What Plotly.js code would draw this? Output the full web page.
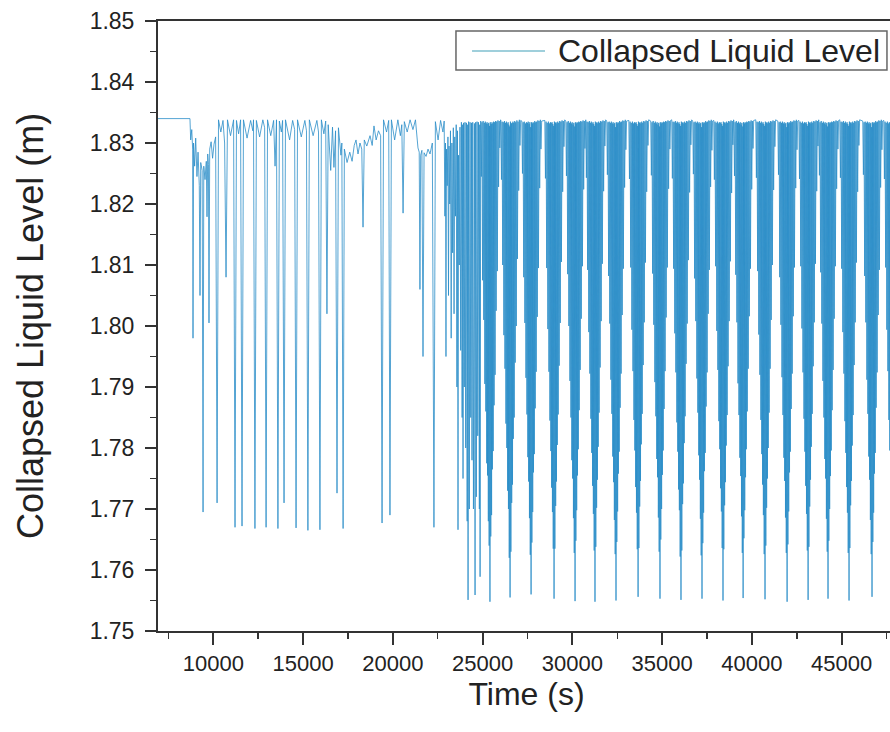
<!DOCTYPE html>
<html>
<head>
<meta charset="utf-8">
<script src="https://cdn.plot.ly/plotly-3.0.1.min.js"></script>
<style>
html,body{margin:0;padding:0;overflow:hidden;background:#fff;}
#chart{width:895px;height:732px;}
</style>
</head>
<body>
<div id="chart"></div>
<script>
// ---- Data (time in s, collapsed liquid level in m) ----
var seriesName = "Collapsed Liquid Level";
var xTitle = "Time (s)";
var yTitle = "Collapsed Liquid Level (m)";

// initial steady level and first irregular oscillations (≈6900–24900 s)
var tEarly = [6900,8700,8740,8800,8850,8870,8900,8960,9020,9090,9150,9220,9260,9300,9380,9430,9470,9540,9610,9650,9690,9730,9760,9800,9880,9960,10040,10130,10210,10290,10420,10540,10630,10710,10790,10960,11130,11210,11290,11410,11520,11600,11680,11880,12080,12200,12240,12320,12400,12580,12760,12860,12940,13020,13200,13360,13440,13520,13600,13680,13790,13860,13940,14020,14250,14420,14530,14610,14690,14900,15100,15190,15270,15350,15560,15770,15860,15940,16020,16160,16260,16330,16400,16540,16640,16720,16810,16890,16970,17110,17160,17230,17300,17450,17600,17730,17850,17950,18060,18170,18270,18340,18410,18550,18730,18850,18950,19070,19200,19320,19400,19480,19650,19770,19840,19920,20100,20280,20420,20500,20570,20640,20800,20960,21120,21260,21400,21470,21510,21550,21620,21680,21740,21850,21960,22070,22200,22290,22370,22520,22660,22790,
22860,22900,22930,22960,22990,23030,23070,23100,23130,23170,23210,23250,23290,23330,23370,23410,23450,23490,23530,23570,23600,23630,23660,23700,23740,23780,23820,23860,23890,23910,23940,23980,24020,24060,24100,24140,24170,24190,24220,24260,24300,24340,24380,24410,24450,24490,24545,24580,24610,24650,24690,24730,24770,24820,24840,24860];
var yEarly = [1.8340,1.8340,1.8305,1.8322,1.8290,1.7980,1.8300,1.8262,1.8308,1.8245,1.8285,1.8230,1.8050,1.8268,1.8255,1.7695,1.8262,1.8240,1.8270,1.8179,1.8282,1.8265,1.8005,1.8290,1.8302,1.8275,1.8298,1.8310,1.7710,1.8338,1.8318,1.8337,1.8300,1.8080,1.8338,1.8312,1.8338,1.7670,1.8337,1.8315,1.8338,1.7672,1.8338,1.8308,1.8337,1.8320,1.8338,1.7668,1.8337,1.8310,1.8338,1.8325,1.7670,1.8338,1.8312,1.8337,1.8262,1.8338,1.7668,1.8336,1.8318,1.8337,1.7710,1.8338,1.8305,1.8337,1.8322,1.7669,1.8338,1.8310,1.8337,1.8320,1.7665,1.8338,1.8312,1.8337,1.8318,1.7666,1.8338,1.8315,1.8336,1.8020,1.8330,1.8255,1.8326,1.8260,1.8320,1.7726,1.8325,1.8280,1.8300,1.7668,1.8290,1.8268,1.8285,1.8270,1.8296,1.8305,1.8282,1.8300,1.8290,1.8162,1.8305,1.8295,1.8312,1.8296,1.8328,1.8305,1.8320,1.8312,1.7677,1.8338,1.8318,1.8337,1.7690,1.8338,1.8305,1.8338,1.8312,1.8330,1.8185,1.8335,1.8318,1.8338,1.8322,1.8338,1.8292,1.8285,1.8060,1.8280,1.8288,1.7950,1.8284,1.8278,1.8290,1.8282,1.8300,1.7670,1.8335,1.8305,1.8337,1.8318,
1.8336,1.8180,1.8300,1.7950,1.8290,1.8230,1.8310,1.8050,1.8295,1.8200,1.8320,1.7980,1.8300,1.8120,1.8325,1.8020,1.8310,1.8180,1.8330,1.7900,1.8320,1.7666,1.8280,1.8100,1.8326,1.7960,1.8334,1.7850,1.8330,1.7750,1.8333,1.7900,1.8334,1.7800,1.8333,1.7680,1.8330,1.7551,1.8335,1.7700,1.8334,1.7850,1.8333,1.7780,1.8334,1.7700,1.8332,1.7559,1.8334,1.7720,1.8335,1.7820,1.8334,1.7700,1.8330,1.7589];

// regular drain cycles (≈24900–48000 s), one line per cycle
var tCycles = [
24895,24930,24965,25000,25030,25065,25095,25125,25150,25180,25205,25230,25250,25275,25300,25320,25340,25365,25390,25410,25430,25455,25480,25500,25520,25545,25570,25590,25615,25640,25670,25695,25725,25755,25790,25820,25855,25890,25925,25960,26000,
26015,26050,26085,26120,26150,26185,26215,26245,26270,26300,26325,26350,26370,26395,26420,26440,26460,26485,26510,26530,26550,26575,26600,26620,26640,26665,26690,26710,26735,26760,26790,26815,26845,26875,26910,26940,26975,27010,27045,27080,27120,
27185,27220,27255,27290,27320,27355,27385,27415,27440,27470,27495,27520,27540,27565,27590,27610,27630,27655,27680,27700,27720,27745,27770,27790,27810,27835,27860,27880,27905,27930,27960,27985,28015,28045,28080,28110,28145,28180,28215,28250,28290,
28465,28500,28535,28570,28600,28635,28665,28695,28720,28750,28775,28800,28820,28845,28870,28890,28910,28935,28960,28980,29000,29025,29050,29070,29090,29115,29140,29160,29185,29210,29240,29265,29295,29325,29360,29390,29425,29460,29495,29530,29570,
29635,29670,29705,29740,29770,29805,29835,29865,29890,29920,29945,29970,29990,30015,30040,30060,30080,30105,30130,30150,30170,30195,30220,30240,30260,30285,30310,30330,30355,30380,30410,30435,30465,30495,30530,30560,30595,30630,30665,30700,30740,
30745,30780,30815,30850,30880,30915,30945,30975,31000,31030,31055,31080,31100,31125,31150,31170,31190,31215,31240,31260,31280,31305,31330,31350,31370,31395,31420,31440,31465,31490,31520,31545,31575,31605,31640,31670,31705,31740,31775,31810,31850,
31915,31950,31985,32020,32050,32085,32115,32145,32170,32200,32225,32250,32270,32295,32320,32340,32360,32385,32410,32430,32450,32475,32500,32520,32540,32565,32590,32610,32635,32660,32690,32715,32745,32775,32810,32840,32875,32910,32945,32980,33020,
33145,33180,33215,33250,33280,33315,33345,33375,33400,33430,33455,33480,33500,33525,33550,33570,33590,33615,33640,33660,33680,33705,33730,33750,33770,33795,33820,33840,33865,33890,33920,33945,33975,34005,34040,34070,34105,34140,34175,34210,34250,
34365,34400,34435,34470,34500,34535,34565,34595,34620,34650,34675,34700,34720,34745,34770,34790,34810,34835,34860,34880,34900,34925,34950,34970,34990,35015,35040,35060,35085,35110,35140,35165,35195,35225,35260,35290,35325,35360,35395,35430,35470,
35535,35570,35605,35640,35670,35705,35735,35765,35790,35820,35845,35870,35890,35915,35940,35960,35980,36005,36030,36050,36070,36095,36120,36140,36160,36185,36210,36230,36255,36280,36310,36335,36365,36395,36430,36460,36495,36530,36565,36600,36640,
36705,36740,36775,36810,36840,36875,36905,36935,36960,36990,37015,37040,37060,37085,37110,37130,37150,37175,37200,37220,37240,37265,37290,37310,37330,37355,37380,37400,37425,37450,37480,37505,37535,37565,37600,37630,37665,37700,37735,37770,37810,
37875,37910,37945,37980,38010,38045,38075,38105,38130,38160,38185,38210,38230,38255,38280,38300,38320,38345,38370,38390,38410,38435,38460,38480,38500,38525,38550,38570,38595,38620,38650,38675,38705,38735,38770,38800,38835,38870,38905,38940,38980,
38995,39030,39065,39100,39130,39165,39195,39225,39250,39280,39305,39330,39350,39375,39400,39420,39440,39465,39490,39510,39530,39555,39580,39600,39620,39645,39670,39690,39715,39740,39770,39795,39825,39855,39890,39920,39955,39990,40025,40060,40100,
40215,40250,40285,40320,40350,40385,40415,40445,40470,40500,40525,40550,40570,40595,40620,40640,40660,40685,40710,40730,40750,40775,40800,40820,40840,40865,40890,40910,40935,40960,40990,41015,41045,41075,41110,41140,41175,41210,41245,41280,41320,
41445,41480,41515,41550,41580,41615,41645,41675,41700,41730,41755,41780,41800,41825,41850,41870,41890,41915,41940,41960,41980,42005,42030,42050,42070,42095,42120,42140,42165,42190,42220,42245,42275,42305,42340,42370,42405,42440,42475,42510,42550,
42615,42650,42685,42720,42750,42785,42815,42845,42870,42900,42925,42950,42970,42995,43020,43040,43060,43085,43110,43130,43150,43175,43200,43220,43240,43265,43290,43310,43335,43360,43390,43415,43445,43475,43510,43540,43575,43610,43645,43680,43720,
43725,43760,43795,43830,43860,43895,43925,43955,43980,44010,44035,44060,44080,44105,44130,44150,44170,44195,44220,44240,44260,44285,44310,44330,44350,44375,44400,44420,44445,44470,44500,44525,44555,44585,44620,44650,44685,44720,44755,44790,44830,
44895,44930,44965,45000,45030,45065,45095,45125,45150,45180,45205,45230,45250,45275,45300,45320,45340,45365,45390,45410,45430,45455,45480,45500,45520,45545,45570,45590,45615,45640,45670,45695,45725,45755,45790,45820,45855,45890,45925,45960,46000,
46175,46210,46245,46280,46310,46345,46375,46405,46430,46460,46485,46510,46530,46555,46580,46600,46620,46645,46670,46690,46710,46735,46760,46780,46800,46825,46850,46870,46895,46920,46950,46975,47005,47035,47070,47100,47135,47170,47205,47240,47280,
47345,47380,47415,47450,47480,47515,47545,47575,47600,47630,47655,47680,47700,47725,47750,47770,47790,47815,47840,47860,47880,47905,47930,47950,47970,47995,48020,48040,48065,48090,48120,48145,48175,48205,48240,48270,48305,48340,48375,48410,48450];
var yCycles = [
1.8336,1.8245,1.8334,1.8075,1.8336,1.8010,1.8333,1.7905,1.8335,1.7860,1.8332,1.7775,1.8334,1.7755,1.8331,1.7680,1.8333,1.7640,1.8328,1.7548,1.8334,1.7655,1.8331,1.7690,1.8334,1.7765,1.8332,1.7795,1.8335,1.7870,1.8334,1.7920,1.8336,1.8025,1.8335,1.8090,1.8337,1.8228,1.8336,1.8292,1.8338,
1.8337,1.8240,1.8335,1.8100,1.8334,1.7985,1.8336,1.7930,1.8333,1.7840,1.8335,1.7800,1.8332,1.7730,1.8334,1.7700,1.8330,1.7620,1.8327,1.7555,1.8335,1.7630,1.8332,1.7710,1.8333,1.7740,1.8335,1.7815,1.8333,1.7850,1.8336,1.7940,1.8334,1.8000,1.8337,1.8110,1.8335,1.8222,1.8338,1.8296,1.8337,
1.8336,1.8250,1.8334,1.8080,1.8335,1.8005,1.8332,1.7915,1.8334,1.7855,1.8333,1.7785,1.8335,1.7745,1.8331,1.7685,1.8334,1.7625,1.8326,1.7560,1.8334,1.7645,1.8332,1.7695,1.8334,1.7760,1.8333,1.7790,1.8336,1.7865,1.8334,1.7925,1.8335,1.8015,1.8337,1.8095,1.8336,1.8226,1.8338,1.8290,1.8336,
1.8337,1.8242,1.8335,1.8095,1.8333,1.7995,1.8335,1.7925,1.8332,1.7845,1.8334,1.7795,1.8333,1.7735,1.8334,1.7695,1.8331,1.7635,1.8328,1.7553,1.8335,1.7635,1.8333,1.7705,1.8334,1.7745,1.8332,1.7805,1.8335,1.7855,1.8333,1.7935,1.8336,1.8005,1.8335,1.8105,1.8337,1.8220,1.8336,1.8294,1.8338,
1.8336,1.8246,1.8334,1.8085,1.8336,1.8000,1.8333,1.7910,1.8335,1.7850,1.8332,1.7780,1.8334,1.7750,1.8330,1.7685,1.8333,1.7628,1.8327,1.7549,1.8334,1.7648,1.8332,1.7698,1.8334,1.7755,1.8333,1.7798,1.8335,1.7862,1.8334,1.7928,1.8336,1.8012,1.8335,1.8098,1.8337,1.8224,1.8336,1.8291,1.8337,
1.8338,1.8243,1.8335,1.8092,1.8334,1.7990,1.8336,1.7922,1.8333,1.7848,1.8335,1.7792,1.8332,1.7738,1.8334,1.7692,1.8331,1.7632,1.8328,1.7548,1.8335,1.7638,1.8333,1.7702,1.8334,1.7748,1.8332,1.7802,1.8335,1.7858,1.8333,1.7932,1.8336,1.8008,1.8335,1.8102,1.8337,1.8221,1.8336,1.8295,1.8338,
1.8336,1.8248,1.8334,1.8082,1.8335,1.8004,1.8333,1.7912,1.8335,1.7856,1.8332,1.7786,1.8334,1.7744,1.8331,1.7682,1.8333,1.7626,1.8326,1.7550,1.8334,1.7646,1.8332,1.7696,1.8334,1.7758,1.8333,1.7794,1.8336,1.7866,1.8334,1.7922,1.8335,1.8018,1.8337,1.8094,1.8336,1.8227,1.8338,1.8289,1.8336,
1.8337,1.8241,1.8335,1.8096,1.8333,1.7994,1.8335,1.7926,1.8332,1.7846,1.8334,1.7796,1.8333,1.7736,1.8334,1.7694,1.8331,1.7634,1.8328,1.7556,1.8335,1.7636,1.8333,1.7704,1.8334,1.7746,1.8332,1.7806,1.8335,1.7856,1.8333,1.7936,1.8336,1.8006,1.8335,1.8104,1.8337,1.8220,1.8336,1.8296,1.8338,
1.8336,1.8247,1.8334,1.8086,1.8336,1.8002,1.8333,1.7908,1.8335,1.7852,1.8332,1.7782,1.8334,1.7752,1.8330,1.7686,1.8333,1.7630,1.8327,1.7553,1.8334,1.7650,1.8332,1.7700,1.8334,1.7756,1.8333,1.7796,1.8335,1.7864,1.8334,1.7926,1.8336,1.8014,1.8335,1.8096,1.8337,1.8225,1.8336,1.8290,1.8337,
1.8338,1.8242,1.8335,1.8094,1.8334,1.7988,1.8336,1.7924,1.8333,1.7842,1.8335,1.7794,1.8332,1.7732,1.8334,1.7698,1.8331,1.7622,1.8328,1.7551,1.8335,1.7632,1.8333,1.7708,1.8334,1.7742,1.8332,1.7808,1.8335,1.7852,1.8333,1.7938,1.8336,1.8004,1.8335,1.8108,1.8337,1.8219,1.8336,1.8297,1.8338,
1.8336,1.8249,1.8334,1.8078,1.8335,1.8008,1.8333,1.7914,1.8335,1.7858,1.8332,1.7788,1.8334,1.7748,1.8331,1.7684,1.8333,1.7624,1.8326,1.7553,1.8334,1.7644,1.8332,1.7694,1.8334,1.7762,1.8333,1.7792,1.8336,1.7868,1.8334,1.7924,1.8335,1.8020,1.8337,1.8092,1.8336,1.8228,1.8338,1.8288,1.8336,
1.8337,1.8240,1.8335,1.8098,1.8333,1.7992,1.8335,1.7928,1.8332,1.7844,1.8334,1.7798,1.8333,1.7734,1.8334,1.7696,1.8331,1.7636,1.8328,1.7550,1.8335,1.7634,1.8333,1.7706,1.8334,1.7744,1.8332,1.7804,1.8335,1.7854,1.8333,1.7934,1.8336,1.8008,1.8335,1.8106,1.8337,1.8218,1.8336,1.8297,1.8338,
1.8336,1.8246,1.8334,1.8084,1.8336,1.8006,1.8333,1.7906,1.8335,1.7854,1.8332,1.7784,1.8334,1.7754,1.8330,1.7688,1.8333,1.7628,1.8327,1.7554,1.8334,1.7652,1.8332,1.7698,1.8334,1.7752,1.8333,1.7798,1.8335,1.7860,1.8334,1.7930,1.8336,1.8016,1.8335,1.8094,1.8337,1.8224,1.8336,1.8291,1.8337,
1.8338,1.8243,1.8335,1.8090,1.8334,1.7986,1.8336,1.7920,1.8333,1.7846,1.8335,1.7790,1.8332,1.7740,1.8334,1.7690,1.8331,1.7626,1.8328,1.7552,1.8335,1.7640,1.8333,1.7702,1.8334,1.7750,1.8332,1.7800,1.8335,1.7858,1.8333,1.7930,1.8336,1.8010,1.8335,1.8100,1.8337,1.8223,1.8336,1.8294,1.8338,
1.8336,1.8248,1.8334,1.8080,1.8335,1.8002,1.8333,1.7916,1.8335,1.7854,1.8332,1.7784,1.8334,1.7746,1.8331,1.7686,1.8333,1.7628,1.8326,1.7548,1.8334,1.7642,1.8332,1.7696,1.8334,1.7760,1.8333,1.7794,1.8336,1.7864,1.8334,1.7922,1.8335,1.8016,1.8337,1.8096,1.8336,1.8226,1.8338,1.8289,1.8336,
1.8337,1.8241,1.8335,1.8098,1.8333,1.7996,1.8335,1.7924,1.8332,1.7848,1.8334,1.7794,1.8333,1.7738,1.8334,1.7692,1.8331,1.7632,1.8328,1.7551,1.8335,1.7638,1.8333,1.7704,1.8334,1.7748,1.8332,1.7802,1.8335,1.7856,1.8333,1.7934,1.8336,1.8006,1.8335,1.8102,1.8337,1.8221,1.8336,1.8295,1.8338,
1.8336,1.8247,1.8334,1.8088,1.8336,1.8004,1.8333,1.7910,1.8335,1.7850,1.8332,1.7782,1.8334,1.7750,1.8330,1.7684,1.8333,1.7630,1.8327,1.7553,1.8334,1.7648,1.8332,1.7700,1.8334,1.7754,1.8333,1.7796,1.8335,1.7862,1.8334,1.7928,1.8336,1.8012,1.8335,1.8098,1.8337,1.8225,1.8336,1.8290,1.8337,
1.8338,1.8243,1.8335,1.8094,1.8334,1.7990,1.8336,1.7922,1.8333,1.7844,1.8335,1.7792,1.8332,1.7736,1.8334,1.7694,1.8331,1.7628,1.8328,1.7550,1.8335,1.7636,1.8333,1.7706,1.8334,1.7746,1.8332,1.7804,1.8335,1.7854,1.8333,1.7936,1.8336,1.8006,1.8335,1.8104,1.8337,1.8220,1.8336,1.8296,1.8338,
1.8336,1.8248,1.8334,1.8082,1.8335,1.8006,1.8333,1.7912,1.8335,1.7856,1.8332,1.7786,1.8334,1.7748,1.8331,1.7682,1.8333,1.7626,1.8326,1.7556,1.8334,1.7646,1.8332,1.7694,1.8334,1.7758,1.8333,1.7792,1.8336,1.7866,1.8334,1.7924,1.8335,1.8018,1.8337,1.8092,1.8336,1.8227,1.8338,1.8289,1.8336,
1.8337,1.8241,1.8335,1.8096,1.8333,1.7994,1.8335,1.7926,1.8332,1.7846,1.8334,1.7796,1.8333,1.7736,1.8334,1.7694,1.8331,1.7634,1.8328,1.7560,1.8335,1.7636,1.8333,1.7704,1.8334,1.7746,1.8332,1.7806,1.8335,1.7856,1.8333,1.7936,1.8336,1.8006,1.8335,1.8104,1.8337,1.8220,1.8336,1.8296,1.8338];

// axis ticks
var xTickVals = [10000,15000,20000,25000,30000,35000,40000,45000];
var xTickText = ["10000","15000","20000","25000","30000","35000","40000","45000"];
var yTickVals = [1.75,1.76,1.77,1.78,1.79,1.80,1.81,1.82,1.83,1.84,1.85];
var yTickText = ["1.75","1.76","1.77","1.78","1.79","1.80","1.81","1.82","1.83","1.84","1.85"];

var timeAll = tEarly.concat(tCycles);
var levelAll = yEarly.concat(yCycles);

var FONT = "Arial, 'Liberation Sans', sans-serif";
var LINE_COLOR = "#2a8dc8";
var trace = {
  x: timeAll, y: levelAll, type: "scatter", mode: "lines",
  name: seriesName, showlegend: false,
  line: {color: LINE_COLOR, width: 0.8}
};

var layout = {
  width: 895, height: 732,
  margin: {l: 158, r: 0, t: 21, b: 101},
  paper_bgcolor: "#fff", plot_bgcolor: "#fff",
  font: {family: FONT, color: "#222"},
  showlegend: false,
  xaxis: {
    range: [6920, 47970],
    tickmode: "array", tickvals: xTickVals, ticktext: xTickText,
    ticks: "outside", ticklen: 12, tickwidth: 2, tickcolor: "#333",
    minor: {dtick: 2500, tick0: 0, ticks: "outside", ticklen: 6, tickwidth: 1.5, tickcolor: "#333"},
    showline: true, linecolor: "#333", linewidth: 2, mirror: true,
    showgrid: false, zeroline: false,
    tickfont: {family: FONT, size: 22, color: "#222"},
    ticklabelstandoff: 0,
    title: {text: xTitle, font: {family: FONT, size: 32, color: "#222"}, standoff: 0},
    automargin: false
  },
  yaxis: {
    range: [1.75, 1.85],
    tickmode: "array", tickvals: yTickVals, ticktext: yTickText,
    ticks: "outside", ticklen: 11, tickwidth: 2, tickcolor: "#333",
    minor: {dtick: 0.005, tick0: 1.75, ticks: "outside", ticklen: 6, tickwidth: 1.5, tickcolor: "#333"},
    showline: true, linecolor: "#333", linewidth: 2, mirror: true,
    showgrid: false, zeroline: false,
    tickfont: {family: FONT, size: 23, color: "#222"},
    ticklabelstandoff: 6,
    title: {text: yTitle, font: {family: FONT, size: 36, color: "#222"}, standoff: 35},
    automargin: false
  },
  // legend box drawn in plot-paper coordinates
  shapes: [
    {type: "rect", xref: "paper", yref: "paper", x0: 0.4043, x1: 0.9891, y0: 0.9197, y1: 0.9836,
     line: {color: "#666", width: 1.5}, fillcolor: "#fff", layer: "above"},
    {type: "line", xref: "paper", yref: "paper", x0: 0.4261, x1: 0.5251, y0: 0.9508, y1: 0.9508,
     line: {color: "#7fbfcf", width: 1.5}, layer: "above"}
  ],
  annotations: [
    {xref: "paper", yref: "paper", x: 0.5400, y: 0.9508, xanchor: "left", yanchor: "middle",
     text: seriesName, showarrow: false, font: {family: FONT, size: 32, color: "#222"}}
  ]
};

Plotly.newPlot("chart", [trace], layout, {staticPlot: true, displayModeBar: false});
</script>
</body>
</html>
